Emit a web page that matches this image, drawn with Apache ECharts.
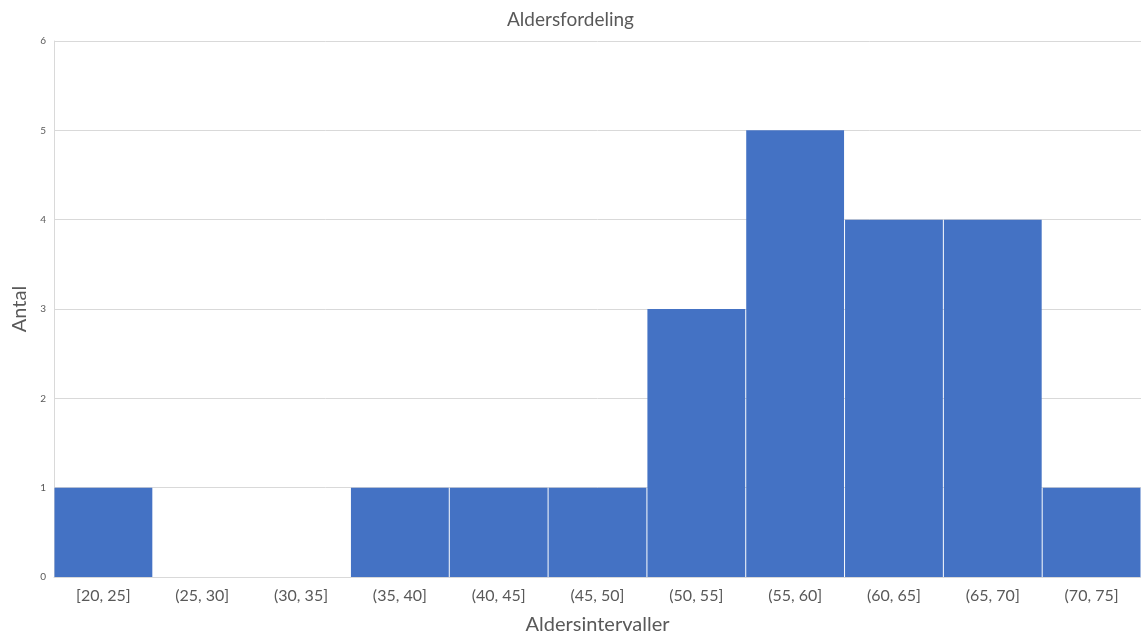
<!DOCTYPE html>
<html><head><meta charset="utf-8">
<script src="https://cdn.jsdelivr.net/npm/echarts@6/dist/echarts.min.js"></script>
<style>html,body{margin:0;padding:0;background:#fff}#c{width:1141px;height:636px}</style>
</head><body><div id="c"></div>
<script>
const categories = ["[20, 25]","(25, 30]","(30, 35]","(35, 40]","(40, 45]","(45, 50]","(50, 55]","(55, 60]","(60, 65]","(65, 70]","(70, 75]"];
const counts = [1,0,0,1,1,1,3,5,4,4,1];
const chartTitle = "Aldersfordeling";
const xTitle = "Aldersintervaller";
const yTitle = "Antal";
const ff = "Lato, 'Open Sans', sans-serif";
const chart = echarts.init(document.getElementById('c'));
chart.setOption({
  animation:false,
  title:{text:chartTitle,left:'center',top:5,textStyle:{fontFamily:ff,fontSize:19,fontWeight:'normal',color:'#595959'}},
  grid:{left:54,right:0,top:41,bottom:59,containLabel:false,outerBoundsMode:'none'},
  xAxis:{type:'category',data:categories,
    name:xTitle,nameLocation:'middle',nameGap:38,nameTextStyle:{fontFamily:ff,fontSize:20,color:'#595959'},
    axisLine:{lineStyle:{color:'#d9d9d9'}},axisTick:{show:false},
    axisLabel:{fontFamily:ff,fontSize:16,color:'#595959',margin:11,interval:0}},
  yAxis:{type:'value',min:0,max:6,interval:1,
    name:yTitle,nameLocation:'middle',nameGap:24,nameTextStyle:{fontFamily:ff,fontSize:20,color:'#595959'},
    axisLine:{show:true,lineStyle:{color:'#d9d9d9'}},axisTick:{show:false},
    axisLabel:{fontFamily:ff,fontSize:10,color:'#595959',margin:8},
    splitLine:{lineStyle:{color:'#d9d9d9'}}},
  series:[{type:'bar',data:counts,barCategoryGap:'1%',itemStyle:{color:'#4472C4'}}]
});
</script></body></html>
